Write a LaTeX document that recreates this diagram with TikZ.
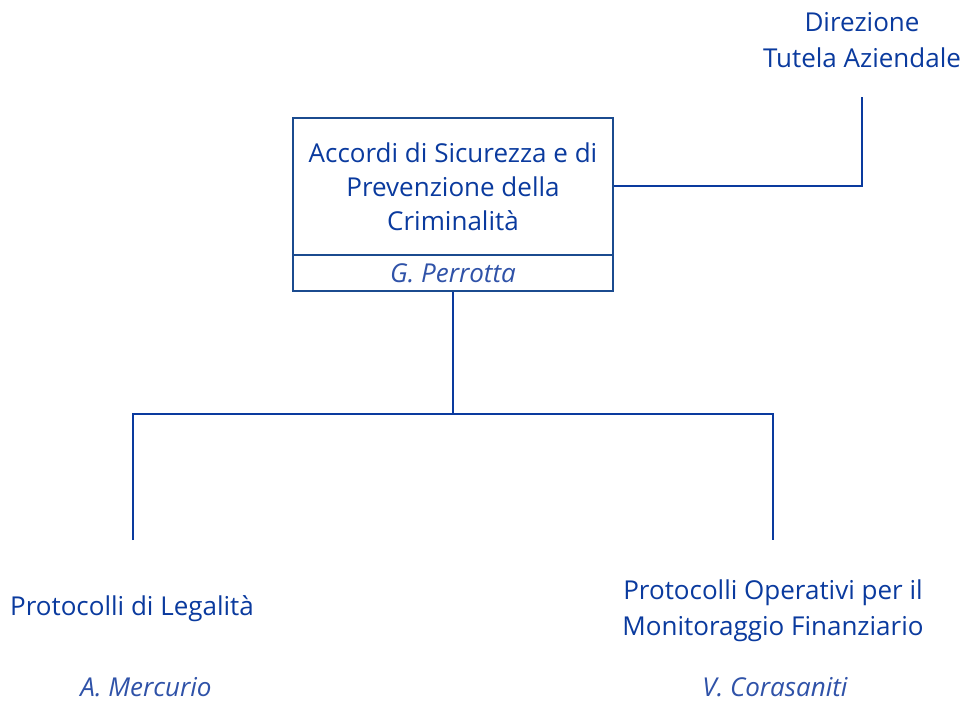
\documentclass[tikz,border=0pt]{standalone}
\usepackage{fontspec}
\setmainfont{Open Sans}
\definecolor{txtblue}{HTML}{0A3A9E}
\definecolor{boxblue}{HTML}{1B4B8F}
\definecolor{nameblue}{HTML}{2F52A8}
\begin{document}
\begin{tikzpicture}[x=0.75pt,y=-0.75pt,
  lbl/.style={text=txtblue,font=\fontsize{19.5pt}{25.5pt}\selectfont,align=center,inner sep=0pt},
  lblw/.style={text=txtblue,font=\fontsize{19.5pt}{27pt}\selectfont,align=center,inner sep=0pt},
  nm/.style={text=nameblue,font=\fontsize{19.5pt}{25.5pt}\selectfont\itshape,inner sep=0pt},
  conn/.style={draw=txtblue,line width=1.5pt},
  boxline/.style={draw=boxblue,line width=2pt}]
\useasboundingbox (0,0) rectangle (965,703);
% main box
\node[boxline,minimum width=320*0.75pt,minimum height=137*0.75pt,inner sep=0pt] (main) at (453,186.5) {};
\node[boxline,minimum width=320*0.75pt,minimum height=36*0.75pt,inner sep=0pt] (sub) at (453,273) {};
\node[lbl] (maintxt) at (453,187) {Accordi di Sicurezza e di\\Prevenzione della\\Criminalità};
\node[nm] (perrotta) at (453,273) {G. Perrotta};
% top right
\node[lblw] (dir) at (862,40) {Direzione\\Tutela Aziendale};
\coordinate (dirb) at (862,97);
\draw[conn] (main.east |- 0,186) -- (862,186) -- (dirb);
% children
\coordinate (split) at (453,414);
\coordinate (lend) at (133,540);
\coordinate (rend) at (773,540);
\draw[conn] (sub.south) -- (split);
\draw[conn] (lend) -- (133,414) -- (773,414) -- (rend);
\node[lbl] (leg) at (132,609) {Protocolli di Legalità};
\node[lblw] (mon) at (773,611) {Protocolli Operativi per il\\Monitoraggio Finanziario};
\node[nm] (merc) at (146,687) {A. Mercurio};
\node[nm] (cora) at (775,687) {V. Corasaniti};
\end{tikzpicture}
\end{document}
